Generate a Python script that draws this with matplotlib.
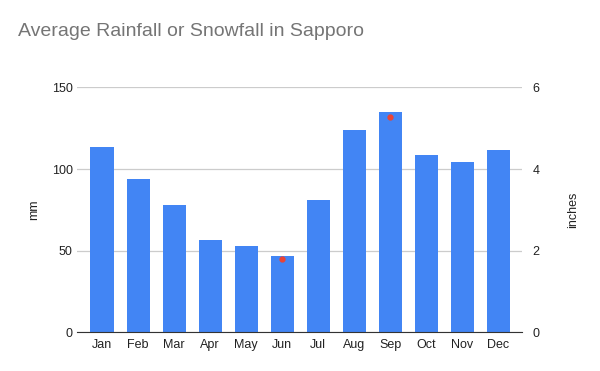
import matplotlib
matplotlib.use("Agg")
import matplotlib.pyplot as plt

months = ["Jan", "Feb", "Mar", "Apr", "May", "Jun",
          "Jul", "Aug", "Sep", "Oct", "Nov", "Dec"]
rain_mm = [113.6, 94.0, 77.8, 56.8, 53.1, 46.8, 81.0, 123.8, 135.2, 108.7, 104.1, 111.7]

# inches series, only two points show up in the chart
inch_months = ["Jun", "Sep"]
rain_in = [1.80, 5.28]

mm_ticks = [0, 50, 100, 150]
in_ticks = [0, 2, 4, 6]

plt.rcParams["font.family"] = ["Liberation Sans", "DejaVu Sans"]

fig = plt.figure(figsize=(6, 3.71), dpi=100)
ax = fig.add_axes([0.128, 0.1038, 0.7415, 0.6606])

x = list(range(len(months)))
ax.bar(x, rain_mm, width=0.64, color="#4285f4", zorder=2)
ax.set_xlim(-0.7, 11.65)
ax.set_ylim(0, 150)
ax.set_yticks(mm_ticks)
ax.set_xticks(x)
ax.set_xticklabels(months)
ax.grid(axis="y", color="#cccccc", linewidth=0.9, zorder=0)
for s in ["top", "right", "left"]:
    ax.spines[s].set_visible(False)
ax.spines["bottom"].set_color("#333333")
ax.spines["bottom"].set_zorder(3)
ax.tick_params(axis="both", length=0, labelsize=9, colors="#222222")
ax.tick_params(axis="y", pad=3)
ax.tick_params(axis="x", pad=5)
ax.set_ylabel("mm", fontsize=9, color="#222222", labelpad=8)

ax2 = ax.twinx()
ax2.set_ylim(0, 6)
ax2.set_yticks(in_ticks)
for s in ["top", "right", "left", "bottom"]:
    ax2.spines[s].set_visible(False)
ax2.tick_params(axis="y", length=0, labelsize=9, colors="#222222", pad=8)
ax2.set_ylabel("inches", fontsize=9, color="#222222", labelpad=20)
ax2.plot([months.index(m) for m in inch_months], rain_in, linestyle="none",
         marker="o", markersize=3.5, color="#ea4335", zorder=4)

fig.text(0.03, 0.915, "Average Rainfall or Snowfall in Sapporo",
         fontsize=14, color="#757575", va="center", ha="left")

fig.savefig("out.png", dpi=100)
